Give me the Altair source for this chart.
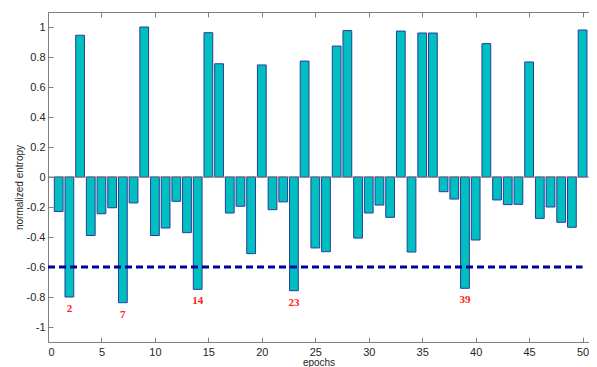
import altair as alt
import pandas as pd

# ---- data ----
epochs = list(range(1, 51))
entropy = [-0.23, -0.80, 0.945, -0.39, -0.245, -0.205, -0.838, -0.173, 1.0, -0.39,
           -0.34, -0.162, -0.371, -0.749, 0.962, 0.755, -0.24, -0.195, -0.511, 0.747,
           -0.218, -0.166, -0.758, 0.773, -0.473, -0.498, 0.873, 0.976, -0.407, -0.24,
           -0.187, -0.269, 0.973, -0.50, 0.96, 0.96, -0.098, -0.147, -0.742, -0.42,
           0.889, -0.153, -0.184, -0.182, 0.767, -0.276, -0.20, -0.302, -0.335, 0.98]
threshold = [-0.6]
threshold_span = [0, 50]
marked_epochs = [2, 7, 14, 23, 39]
x_ticks = [0, 5, 10, 15, 20, 25, 30, 35, 40, 45, 50]
y_ticks = [-1, -0.8, -0.6, -0.4, -0.2, 0, 0.2, 0.4, 0.6, 0.8, 1]
x_domain = [0, 50.6]
y_domain = [-1.1, 1.1]

W, H = 541, 330
FONT = "Liberation Sans"
AXIS_GRAY = "#808080"
LABEL_COL = "#262626"

bars_df = pd.DataFrame({"epoch": epochs, "entropy": entropy})
marks_df = pd.DataFrame({
    "epoch": marked_epochs,
    "entropy": [entropy[e - 1] for e in marked_epochs],
    "label": [str(e) for e in marked_epochs],
})
thr_df = pd.DataFrame({"start": [threshold_span[0]], "end": [threshold_span[1]], "thr": threshold})
base_df = pd.DataFrame({"base": [0]})

xs = alt.Scale(domain=x_domain, nice=False, zero=False)
ys = alt.Scale(domain=y_domain, nice=False, zero=False)

bars = alt.Chart(bars_df).transform_calculate(
    x0="datum.epoch - 0.41", x1="datum.epoch + 0.41"
).mark_bar(fill="#00BFBF", stroke="#2b3a9e", strokeWidth=1).encode(
    x=alt.X("x0:Q", scale=xs, axis=alt.Axis(
        orient="bottom", values=x_ticks, title="epochs", ticks=False,
        domainColor=AXIS_GRAY, labelFont=FONT, labelFontSize=11, labelColor=LABEL_COL,
        labelPadding=4, titleFont=FONT, titleFontSize=10, titleFontWeight="normal",
        titleColor=LABEL_COL, titleY=20, titleBaseline="middle", grid=False)),
    x2="x1:Q",
    y=alt.Y("entropy:Q", scale=ys, axis=alt.Axis(
        orient="left", values=y_ticks, title="normalized entropy", ticks=False,
        domainColor=AXIS_GRAY, labelFont=FONT, labelFontSize=11, labelColor=LABEL_COL,
        labelPadding=3, labelExpr="toString(datum.value)",
        titleFont=FONT, titleFontSize=10, titleFontWeight="normal", titleColor=LABEL_COL,
        titleX=-29, titleY=175, titleAngle=270, titleAlign="center",
        titleBaseline="middle", grid=False)),
    y2=alt.datum(0),
)

zero_line = alt.Chart(base_df).mark_rule(color=AXIS_GRAY, strokeWidth=1).encode(
    y=alt.Y("base:Q", scale=ys, axis=alt.Axis(
        orient="right", offset=-W, values=y_ticks, labels=False, domain=False,
        title=None, tickSize=5, tickColor=AXIS_GRAY, grid=False)),
)

thr_line = alt.Chart(thr_df).mark_rule(color="#0000a0", strokeWidth=3, strokeDash=[7, 4]).encode(
    x=alt.X("start:Q", scale=xs, axis=alt.Axis(
        orient="top", offset=-H, values=x_ticks, labels=False, domain=False,
        title=None, tickSize=5, tickColor=AXIS_GRAY, grid=False)),
    x2="end:Q",
    y=alt.Y("thr:Q", scale=ys, axis=None),
)

labels = alt.Chart(marks_df).mark_text(
    color="#ff2020", font="Liberation Serif", fontWeight="bold", fontSize=11,
    baseline="middle", align="center", dy=12,
).encode(
    x=alt.X("epoch:Q", scale=xs, axis=alt.Axis(
        orient="bottom", offset=-H, values=x_ticks, labels=False, domain=True,
        domainColor=AXIS_GRAY, title=None, tickSize=5, tickColor=AXIS_GRAY, grid=False)),
    y=alt.Y("entropy:Q", scale=ys, axis=None),
    text="label:N",
)

chart = alt.layer(bars, zero_line, thr_line, labels).resolve_axis(
    x="independent", y="independent"
).properties(
    width=W, height=H,
    autosize=alt.AutoSizeParams(type="none"),
    padding={"left": 40, "top": 4, "right": 0, "bottom": 25},
).configure_view(stroke=None).configure(background="white")

chart.save("out.html", embed_options={"renderer": "svg", "actions": False})
